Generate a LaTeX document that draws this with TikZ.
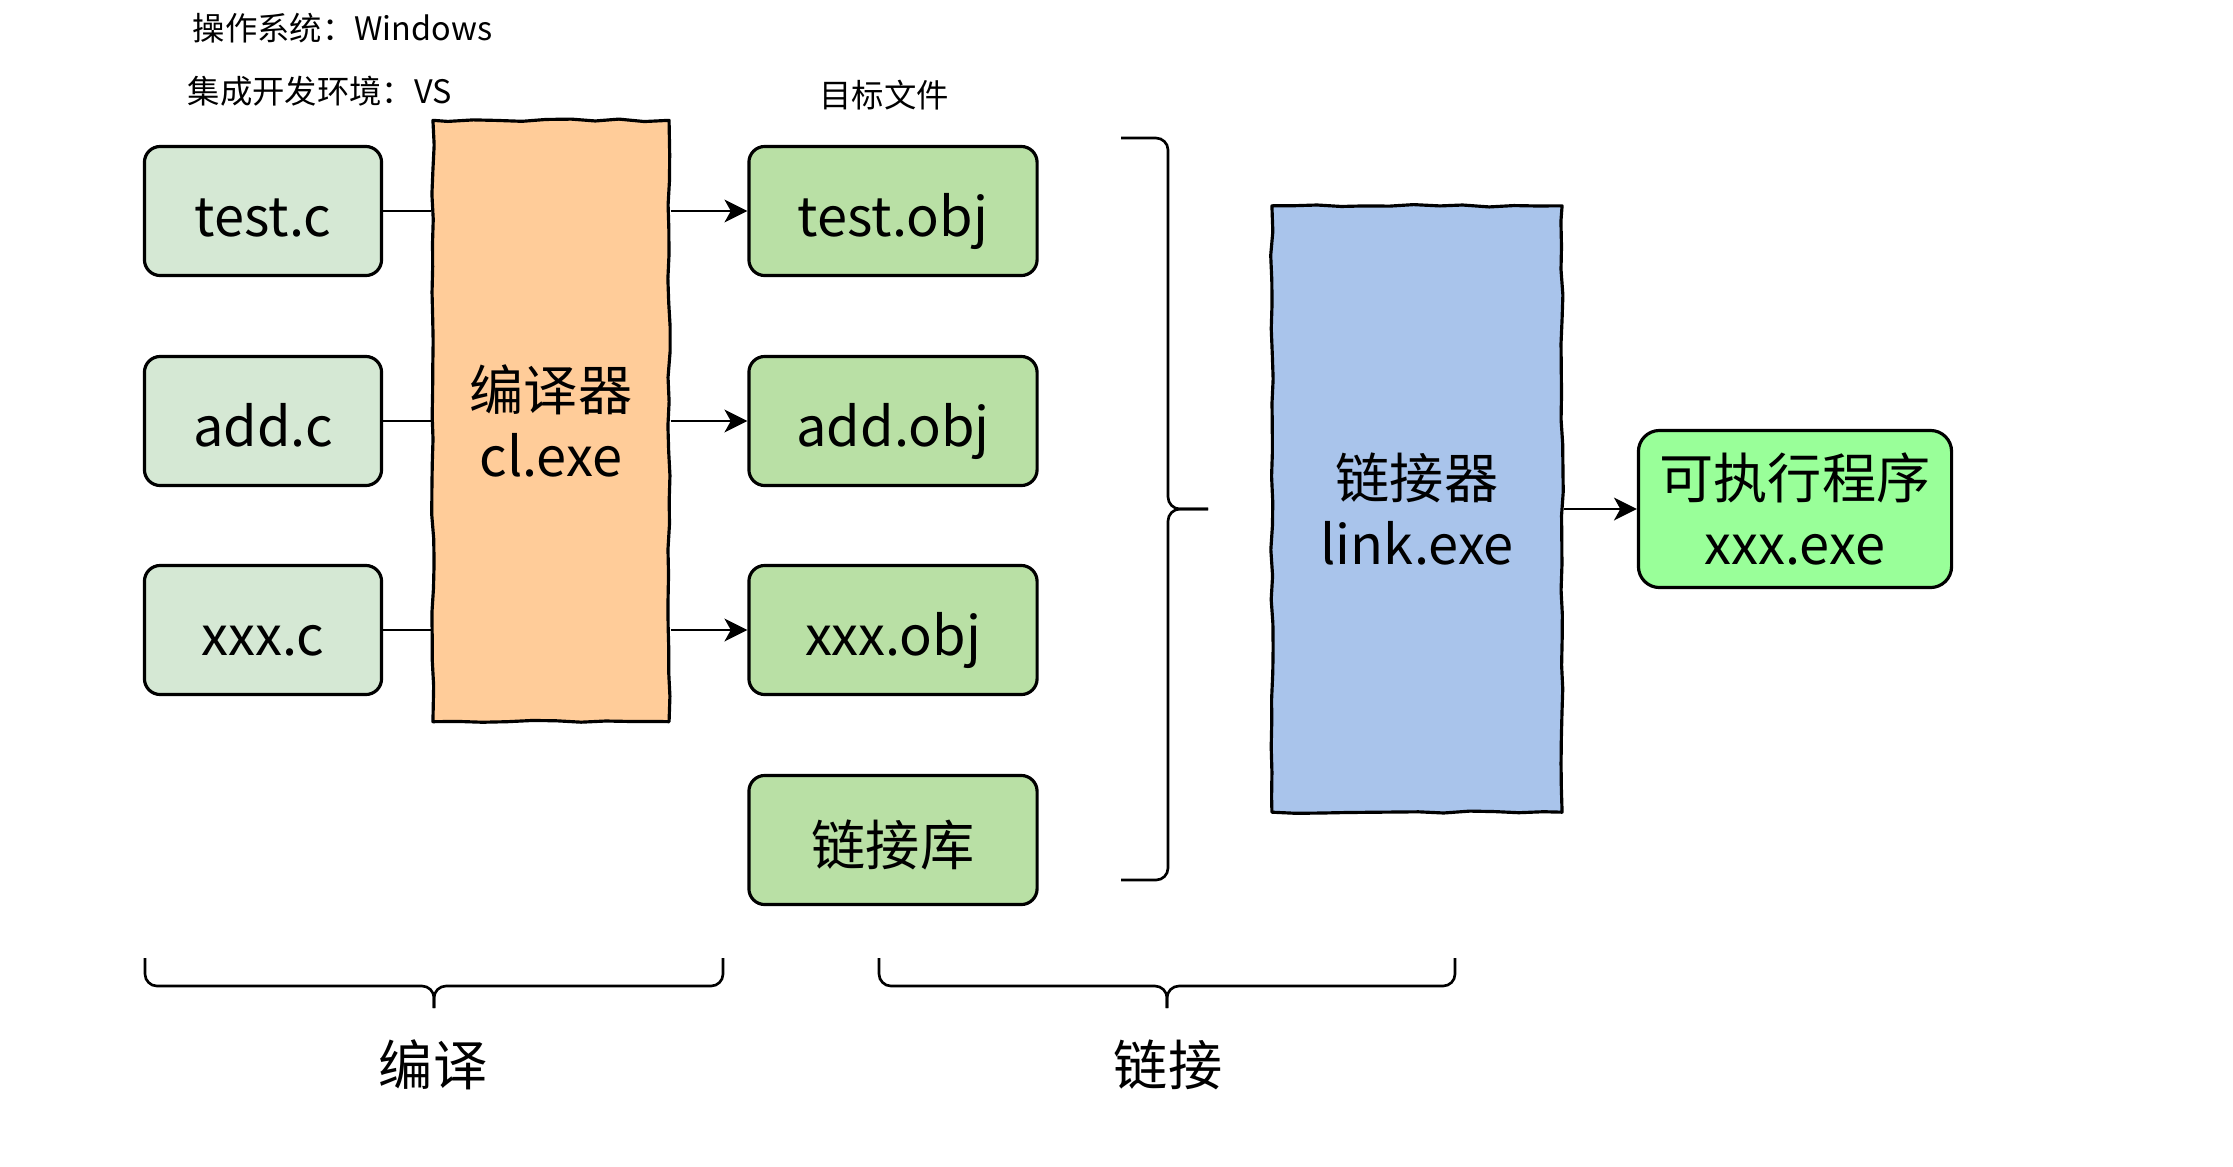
\documentclass[tikz,border=0pt]{standalone}
\usepackage{fontspec}
\setmainfont{Noto Sans CJK SC}
\usetikzlibrary{decorations.pathmorphing,arrows.meta,calc}

\definecolor{srcgreen}{HTML}{D5E8D4}
\definecolor{objgreen}{HTML}{B9E0A5}
\definecolor{ccorange}{HTML}{FFCC99}
\definecolor{lnkblue}{HTML}{A9C4EB}
\definecolor{exegreen}{HTML}{99FF99}

\tikzset{
	sketch/.style={draw,line width=0.9pt,line join=round,decorate,
		decoration={random steps,segment length=7pt,amplitude=0.35pt}},
	roundbox/.style={draw,line width=0.9pt,rounded corners=4.5pt},
	bigtext/.style={font=\fontsize{15.4pt}{19pt}\selectfont,align=center},
	oneline/.style={text height=0.58cm,text depth=0.08cm},
	smalltext/.style={font=\fontsize{9.2pt}{11pt}\selectfont,inner sep=0pt},
	srcfile/.style={roundbox,bigtext,oneline,fill=srcgreen,minimum width=2.37cm,minimum height=1.29cm},
	objfile/.style={roundbox,bigtext,oneline,fill=objgreen,minimum width=2.88cm,minimum height=1.29cm},
	toolbox/.style={sketch,bigtext,minimum width=2.36cm,minimum height=6.01cm},
	feed/.style={line width=0.65pt},
	flow/.style={line width=0.65pt,-{Stealth[length=6.5pt,width=6.5pt,inset=1.8pt]}},
	curly/.style={line width=0.75pt,rounded corners=0.12cm}
}

\begin{document}
\begin{tikzpicture}[x=0.01cm,y=-0.01cm]
				\pgfmathsetseed{7}
				\useasboundingbox (0,0) rectangle (2233,1166);
				
				\node[smalltext,anchor=west] (os) at (192,28) {操作系统：Windows};
				\node[smalltext,anchor=west] (ide) at (187,91) {集成开发环境：VS};
				\node[smalltext] (objtitle) at (884,95) {目标文件};
				
				\node[srcfile] (testc) at (263,211) {test.c};
				\node[srcfile] (addc) at (263,421) {add.c};
				\node[srcfile] (xxxc) at (263,630) {xxx.c};
				\node[toolbox,fill=ccorange] (cl) at (551,421) {编译器\\cl.exe};
				
				\node[objfile] (testobj) at (893,211) {test.obj};
				\node[objfile] (addobj) at (893,421) {add.obj};
				\node[objfile] (xxxobj) at (893,630) {xxx.obj};
				\node[objfile] (lib) at (893,840) {链接库};
				
				\node[toolbox,fill=lnkblue,minimum width=2.9cm,minimum height=6.06cm] (lnk) at (1417,509) {链接器\\link.exe};
				\node[roundbox,bigtext,fill=exegreen,rounded corners=6pt,minimum width=3.13cm,minimum height=1.57cm] (exe) at (1795,509) {可执行程序\\xxx.exe};
				
				\draw[feed] (testc) -- (cl.west |- testc);
				\draw[feed] (addc) -- (cl.west |- addc);
				\draw[feed] (xxxc) -- (cl.west |- xxxc);
				\draw[flow] (cl.east |- testobj) -- (testobj);
				\draw[flow] (cl.east |- addobj) -- (addobj);
				\draw[flow] (cl.east |- xxxobj) -- (xxxobj);
				\draw[flow] (lnk) -- (exe);
				
				% brace round the object files
				\draw[curly] (1121,138) -| (1168,509) -- (1208,509);
				\draw[curly] (1208,509) -- (1168,509) |- (1121,880);
				% braces under the two steps
				\draw[curly] (145,958) |- (434,986) -- (434,1008);
				\draw[curly] (434,1008) -- (434,986) -| (723,958);
				\draw[curly] (879,958) |- (1167,986) -- (1167,1008);
				\draw[curly] (1167,1008) -- (1167,986) -| (1455,958);
				
				\node[bigtext] (compile) at (433,1065) {编译};
				\node[bigtext] (linking) at (1168,1065) {链接};
			\end{tikzpicture}
\end{document}
